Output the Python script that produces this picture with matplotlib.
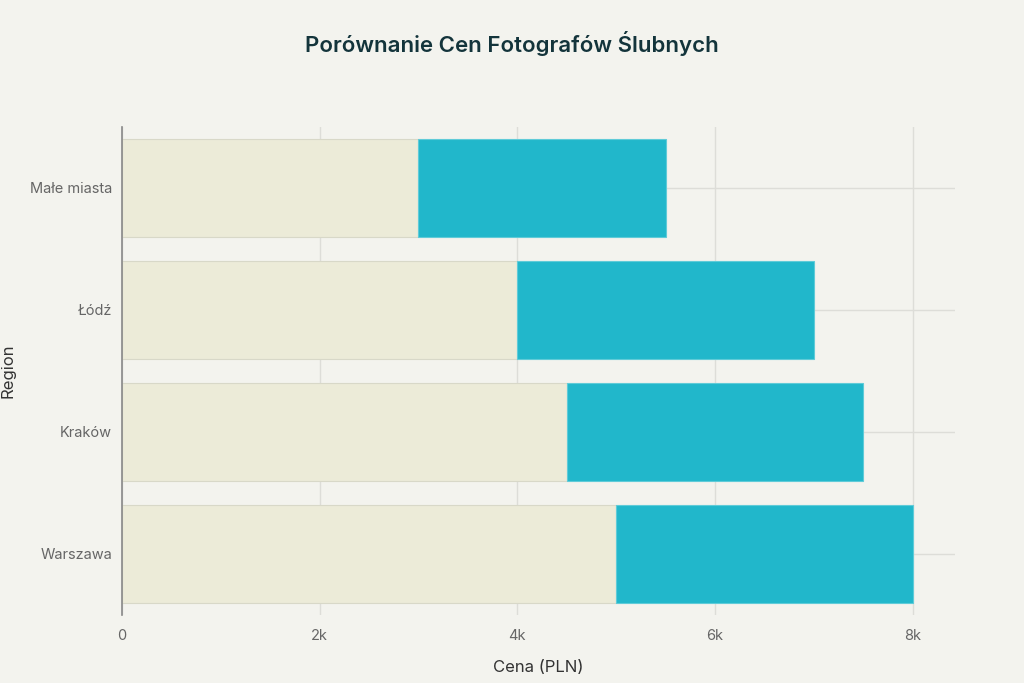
import matplotlib
matplotlib.use('Agg')
import matplotlib.pyplot as plt
from matplotlib.ticker import FuncFormatter

# Data
regions = ['Warszawa', 'Kraków', 'Łódź', 'Małe miasta']
price_min = [5000, 4500, 4000, 3000]
price_extra = [3000, 3000, 3000, 2500]

plt.rcParams['font.family'] = ['Inter', 'DejaVu Sans']

bg = '#F3F3EE'
fig = plt.figure(figsize=(10.24, 6.83), dpi=100, facecolor=bg)
ax = fig.add_axes([0.119, 0.0996, 0.814, 0.7145])
ax.set_facecolor(bg)

ax.barh(regions, price_min, height=0.8, color='#ECEBD8', edgecolor='#D8D8C8', linewidth=0.8, zorder=2)
ax.barh(regions, price_extra, left=price_min, height=0.8, color='#21B7CB', edgecolor='#5FCBD8', linewidth=0.8, zorder=2)

ax.set_xlim(0, 8430)
ax.set_ylim(-0.5, 3.5)
ax.set_xticks([0, 2000, 4000, 6000, 8000])
ax.xaxis.set_major_formatter(FuncFormatter(lambda v, p: '0' if v == 0 else f'{int(v/1000)}k'))
ax.grid(True, color='#DDDDD8', linewidth=1, zorder=0)
ax.set_axisbelow(True)

for s in ['top', 'right', 'bottom']:
    ax.spines[s].set_visible(False)
ax.spines['left'].set_color('#888888')
ax.spines['left'].set_linewidth(1.2)
ax.tick_params(axis='both', length=0, labelsize=10.5, labelcolor='#666666')
ax.tick_params(axis='x', pad=10)
ax.tick_params(axis='y', pad=7)

ax.set_xlabel('Cena (PLN)', fontsize=12, color='#333333', labelpad=12)
ax.set_ylabel('Region', fontsize=12, color='#333333')
ax.yaxis.set_label_coords(-0.128, 0.5)
fig.suptitle('Porównanie Cen Fotografów Ślubnych', y=0.955, fontsize=16, fontweight='semibold', color='#13343B')

fig.savefig('out.png', dpi=100, facecolor=bg)
